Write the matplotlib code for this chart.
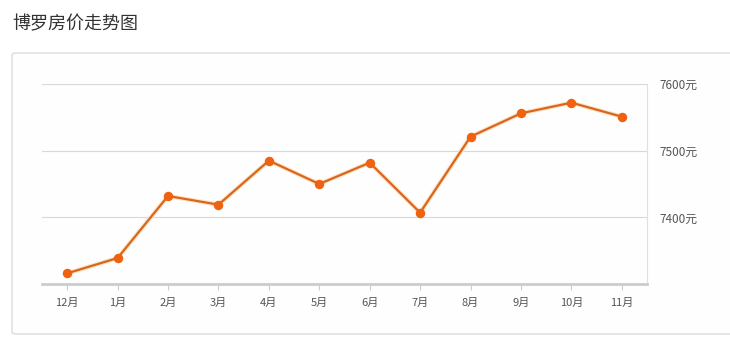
import matplotlib.pyplot as plt
from matplotlib.patches import FancyBboxPatch
import matplotlib.patheffects as pe

plt.rcParams['font.family'] = ['Noto Sans CJK SC', 'DejaVu Sans']

months = ['12月', '1月', '2月', '3月', '4月', '5月', '6月', '7月', '8月', '9月', '10月', '11月']
prices = [7316, 7339, 7432, 7419, 7485, 7450, 7482, 7407, 7521, 7556, 7572, 7551]
yticks = [7400, 7500, 7600]
ylabels = ['7400元', '7500元', '7600元']

fig = plt.figure(figsize=(7.3, 3.53), dpi=100)
fig.patch.set_facecolor('white')

# panel box behind the chart
box = FancyBboxPatch((12 / 730, (353 - 334) / 353), 740 / 730, (334 - 53) / 353,
                     boxstyle='round,pad=0,rounding_size=0.006',
                     transform=fig.transFigure, facecolor='#fefefe',
                     edgecolor='#dcdcdc', linewidth=1.0, zorder=-10)
fig.patches.append(box)

fig.text(12 / 730, 1 - 24 / 353, '博罗房价走势图', fontsize=13, color='#333333',
         va='center', ha='left')

ax = fig.add_axes([42 / 730, (353 - 284) / 353, (647 - 42) / 730, (284 - 84) / 353])
ax.set_facecolor('none')
ax.set_zorder(5)
x = list(range(len(months)))
# line with a soft glow, then solid markers on top
ax.plot(x, prices, color='#d9661f', linewidth=1.6,
        path_effects=[pe.Stroke(linewidth=3.2, foreground='#fde3c4'), pe.Normal()])
ax.plot(x, prices, linestyle='none', marker='o', markersize=5.8,
        markerfacecolor='#ef6210', markeredgecolor='#ef6210')

ax.set_xlim(-0.5, 11.5)
ax.set_ylim(7300, 7600)
ax.set_xticks(x)
ax.set_xticklabels(months, fontsize=8, color='#555555')
ax.set_yticks(yticks)
ax.set_yticklabels(ylabels, fontsize=8.5, color='#555555')
ax.yaxis.tick_right()
ax.tick_params(axis='y', length=0, pad=9)
ax.tick_params(axis='x', length=4, color='#cccccc', pad=6)
ax.grid(axis='y', color='#d8d8d8', linewidth=0.8)
ax.set_axisbelow(True)

for side in ['top', 'left']:
    ax.spines[side].set_visible(False)
ax.spines['right'].set_color('#e0e0e0')
ax.spines['right'].set_linewidth(0.8)
ax.spines['bottom'].set_color('#cccccc')
ax.spines['bottom'].set_linewidth(2)

fig.savefig('out.png', dpi=100)
